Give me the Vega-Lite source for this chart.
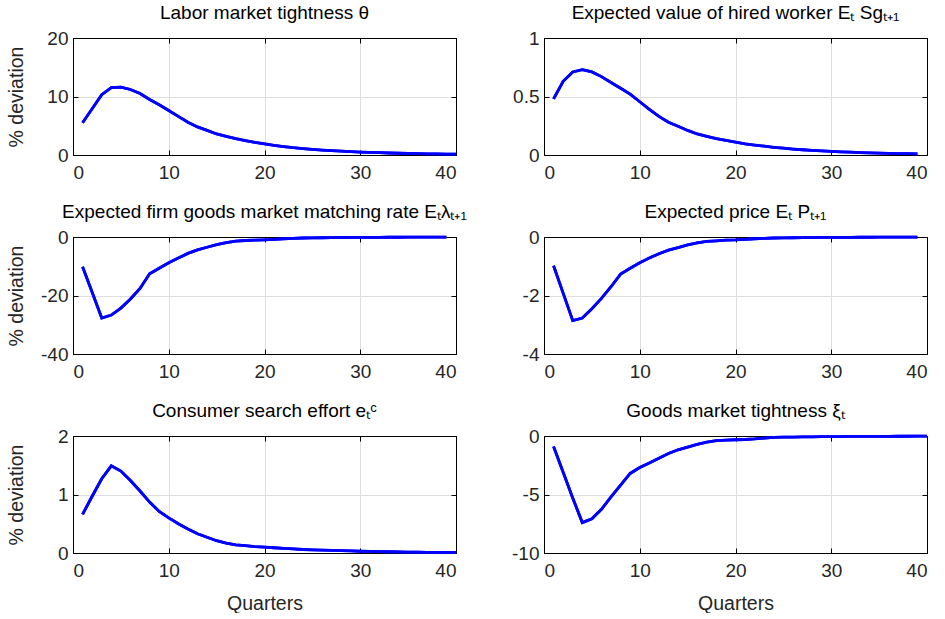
{
  "$schema": "https://vega.github.io/schema/vega-lite/v6.json",
  "background": "white",
  "padding": {"left": 5, "top": 3, "right": 0, "bottom": 0},
  "config": {
    "font": "Liberation Sans",
    "view": {"stroke": "#000000", "strokeWidth": 1},
    "title": {"font": "Liberation Sans", "fontSize": 19, "fontWeight": "normal", "color": "#000000", "offset": 6, "baseline": "alphabetic", "anchor": "middle", "frame": "group"},
    "axis": {
      "labelFont": "Liberation Sans", "labelFontSize": 19, "labelColor": "#262626",
      "titleFont": "Liberation Sans", "titleFontSize": 19.5, "titleFontWeight": "normal", "titleColor": "#262626",
      "gridColor": "#dedede", "gridWidth": 1, "gridOpacity": 1,
      "domain": true, "domainColor": "#000000", "domainWidth": 1, "domainOpacity": 1,
      "ticks": true, "tickColor": "#000000", "tickSize": -5, "tickWidth": 1, "tickOpacity": 1,
      "labelExpr": "toString(datum.value)",
      "zindex": 1
    },
    "axisX": {"labelPadding": 13, "labelBaseline": "top"},
    "axisY": {"labelPadding": 10}
  },
  "datasets": {
    "theta": [
      {"q":1,"v":5.5},{"q":2,"v":7.9},{"q":3,"v":10.3},{"q":4,"v":11.5},{"q":5,"v":11.6},{"q":6,"v":11.2},{"q":7,"v":10.5},{"q":8,"v":9.5},{"q":9,"v":8.6},{"q":10,"v":7.6},
      {"q":11,"v":6.6},{"q":12,"v":5.6},{"q":13,"v":4.8},{"q":14,"v":4.2},{"q":15,"v":3.6},{"q":16,"v":3.2},{"q":17,"v":2.8},{"q":18,"v":2.45},{"q":19,"v":2.15},{"q":20,"v":1.9},
      {"q":21,"v":1.65},{"q":22,"v":1.45},{"q":23,"v":1.25},{"q":24,"v":1.1},{"q":25,"v":0.95},{"q":26,"v":0.85},{"q":27,"v":0.75},{"q":28,"v":0.65},{"q":29,"v":0.57},{"q":30,"v":0.5},
      {"q":31,"v":0.44},{"q":32,"v":0.39},{"q":33,"v":0.34},{"q":34,"v":0.3},{"q":35,"v":0.26},{"q":36,"v":0.23},{"q":37,"v":0.2},{"q":38,"v":0.18},{"q":39,"v":0.16},{"q":40,"v":0.14}
    ],
    "sg": [
      {"q":1,"v":0.48},{"q":2,"v":0.63},{"q":3,"v":0.71},{"q":4,"v":0.73},{"q":5,"v":0.71},{"q":6,"v":0.67},{"q":7,"v":0.62},{"q":8,"v":0.57},{"q":9,"v":0.52},{"q":10,"v":0.455},
      {"q":11,"v":0.39},{"q":12,"v":0.33},{"q":13,"v":0.28},{"q":14,"v":0.245},{"q":15,"v":0.21},{"q":16,"v":0.18},{"q":17,"v":0.16},{"q":18,"v":0.14},{"q":19,"v":0.125},{"q":20,"v":0.11},
      {"q":21,"v":0.095},{"q":22,"v":0.085},{"q":23,"v":0.075},{"q":24,"v":0.066},{"q":25,"v":0.058},{"q":26,"v":0.051},{"q":27,"v":0.045},{"q":28,"v":0.04},{"q":29,"v":0.035},{"q":30,"v":0.031},
      {"q":31,"v":0.027},{"q":32,"v":0.024},{"q":33,"v":0.021},{"q":34,"v":0.018},{"q":35,"v":0.016},{"q":36,"v":0.014},{"q":37,"v":0.012},{"q":38,"v":0.011},{"q":39,"v":0.01}
    ],
    "lambda": [
      {"q":1,"v":-10.2},{"q":2,"v":-18.9},{"q":3,"v":-27.7},{"q":4,"v":-26.7},{"q":5,"v":-24.3},{"q":6,"v":-21.2},{"q":7,"v":-17.6},{"q":8,"v":-12.6},{"q":9,"v":-10.7},{"q":10,"v":-8.8},
      {"q":11,"v":-7.2},{"q":12,"v":-5.6},{"q":13,"v":-4.4},{"q":14,"v":-3.5},{"q":15,"v":-2.6},{"q":16,"v":-1.9},{"q":17,"v":-1.4},{"q":18,"v":-1.2},{"q":19,"v":-1.05},{"q":20,"v":-0.95},
      {"q":21,"v":-0.8},{"q":22,"v":-0.6},{"q":23,"v":-0.45},{"q":24,"v":-0.35},{"q":25,"v":-0.3},{"q":26,"v":-0.25},{"q":27,"v":-0.2},{"q":28,"v":-0.17},{"q":29,"v":-0.15},{"q":30,"v":-0.13},
      {"q":31,"v":-0.11},{"q":32,"v":-0.1},{"q":33,"v":-0.09},{"q":34,"v":-0.08},{"q":35,"v":-0.07},{"q":36,"v":-0.06},{"q":37,"v":-0.05},{"q":38,"v":-0.05},{"q":39,"v":-0.04}
    ],
    "price": [
      {"q":1,"v":-0.98},{"q":2,"v":-1.92},{"q":3,"v":-2.86},{"q":4,"v":-2.77},{"q":5,"v":-2.45},{"q":6,"v":-2.1},{"q":7,"v":-1.7},{"q":8,"v":-1.27},{"q":9,"v":-1.07},{"q":10,"v":-0.88},
      {"q":11,"v":-0.72},{"q":12,"v":-0.57},{"q":13,"v":-0.45},{"q":14,"v":-0.36},{"q":15,"v":-0.27},{"q":16,"v":-0.2},{"q":17,"v":-0.15},{"q":18,"v":-0.13},{"q":19,"v":-0.11},{"q":20,"v":-0.1},
      {"q":21,"v":-0.08},{"q":22,"v":-0.06},{"q":23,"v":-0.045},{"q":24,"v":-0.035},{"q":25,"v":-0.03},{"q":26,"v":-0.025},{"q":27,"v":-0.02},{"q":28,"v":-0.017},{"q":29,"v":-0.015},{"q":30,"v":-0.013},
      {"q":31,"v":-0.011},{"q":32,"v":-0.01},{"q":33,"v":-0.009},{"q":34,"v":-0.008},{"q":35,"v":-0.007},{"q":36,"v":-0.006},{"q":37,"v":-0.005},{"q":38,"v":-0.005},{"q":39,"v":-0.004}
    ],
    "effort": [
      {"q":1,"v":0.66},{"q":2,"v":0.97},{"q":3,"v":1.27},{"q":4,"v":1.49},{"q":5,"v":1.4},{"q":6,"v":1.24},{"q":7,"v":1.06},{"q":8,"v":0.87},{"q":9,"v":0.71},{"q":10,"v":0.6},
      {"q":11,"v":0.5},{"q":12,"v":0.41},{"q":13,"v":0.33},{"q":14,"v":0.27},{"q":15,"v":0.21},{"q":16,"v":0.17},{"q":17,"v":0.14},{"q":18,"v":0.125},{"q":19,"v":0.11},{"q":20,"v":0.1},
      {"q":21,"v":0.09},{"q":22,"v":0.08},{"q":23,"v":0.07},{"q":24,"v":0.06},{"q":25,"v":0.055},{"q":26,"v":0.05},{"q":27,"v":0.045},{"q":28,"v":0.04},{"q":29,"v":0.035},{"q":30,"v":0.03},
      {"q":31,"v":0.027},{"q":32,"v":0.024},{"q":33,"v":0.021},{"q":34,"v":0.018},{"q":35,"v":0.016},{"q":36,"v":0.014},{"q":37,"v":0.012},{"q":38,"v":0.011},{"q":39,"v":0.01},{"q":40,"v":0.009}
    ],
    "xi": [
      {"q":1,"v":-0.9},{"q":2,"v":-3.1},{"q":3,"v":-5.3},{"q":4,"v":-7.4},{"q":5,"v":-7.07},{"q":6,"v":-6.26},{"q":7,"v":-5.2},{"q":8,"v":-4.2},{"q":9,"v":-3.2},{"q":10,"v":-2.7},
      {"q":11,"v":-2.3},{"q":12,"v":-1.9},{"q":13,"v":-1.5},{"q":14,"v":-1.18},{"q":15,"v":-0.95},{"q":16,"v":-0.72},{"q":17,"v":-0.52},{"q":18,"v":-0.4},{"q":19,"v":-0.35},{"q":20,"v":-0.32},
      {"q":21,"v":-0.3},{"q":22,"v":-0.25},{"q":23,"v":-0.18},{"q":24,"v":-0.12},{"q":25,"v":-0.1},{"q":26,"v":-0.09},{"q":27,"v":-0.08},{"q":28,"v":-0.07},{"q":29,"v":-0.06},{"q":30,"v":-0.05},
      {"q":31,"v":-0.045},{"q":32,"v":-0.04},{"q":33,"v":-0.035},{"q":34,"v":-0.03},{"q":35,"v":-0.027},{"q":36,"v":-0.024},{"q":37,"v":-0.022},{"q":38,"v":-0.02},{"q":39,"v":-0.018},{"q":40,"v":-0.016}
    ]
  },
  "columns": 2,
  "bounds": "flush",
  "spacing": {"row": 82, "column": 88},
  "concat": [
    {
      "title": "Labor market tightness θ",
      "width": 383, "height": 117,
      "data": {"name": "theta"},
      "resolve": {"axis": {"x": "independent", "y": "independent"}},
      "layer": [
        {
          "mark": {"type": "line", "color": "#0000ff", "strokeWidth": 2.8},
          "encoding": {
            "x": {"field": "q", "type": "quantitative", "scale": {"domain": [0, 40], "nice": false}, "axis": {"values": [0, 10, 20, 30, 40], "title": null}},
            "y": {"field": "v", "type": "quantitative", "scale": {"domain": [0, 20], "nice": false, "zero": false}, "axis": {"values": [0, 10, 20], "title": "% deviation", "titleX": -57, "titleBaseline": "middle"}}
          }
        },
        {
          "mark": {"type": "line", "color": "#0000ff", "strokeWidth": 2.8},
          "encoding": {
            "x": {"field": "q", "type": "quantitative", "axis": {"orient": "top", "values": [0, 10, 20, 30, 40], "labels": false, "grid": false, "title": null}},
            "y": {"field": "v", "type": "quantitative", "axis": {"orient": "right", "values": [0, 10, 20], "labels": false, "grid": false, "title": null}}
          }
        }
      ]
    },
    {
      "title": "Expected value of hired worker Eₜ Sgₜ₊₁",
      "width": 383, "height": 117,
      "data": {"name": "sg"},
      "resolve": {"axis": {"x": "independent", "y": "independent"}},
      "layer": [
        {
          "mark": {"type": "line", "color": "#0000ff", "strokeWidth": 2.8},
          "encoding": {
            "x": {"field": "q", "type": "quantitative", "scale": {"domain": [0, 40], "nice": false}, "axis": {"values": [0, 10, 20, 30, 40], "title": null}},
            "y": {"field": "v", "type": "quantitative", "scale": {"domain": [0, 1], "nice": false, "zero": false}, "axis": {"values": [0, 0.5, 1], "title": null}}
          }
        },
        {
          "mark": {"type": "line", "color": "#0000ff", "strokeWidth": 2.8},
          "encoding": {
            "x": {"field": "q", "type": "quantitative", "axis": {"orient": "top", "values": [0, 10, 20, 30, 40], "labels": false, "grid": false, "title": null}},
            "y": {"field": "v", "type": "quantitative", "axis": {"orient": "right", "values": [0, 0.5, 1], "labels": false, "grid": false, "title": null}}
          }
        }
      ]
    },
    {
      "title": "Expected firm goods market matching rate Eₜλₜ₊₁",
      "width": 383, "height": 117,
      "data": {"name": "lambda"},
      "resolve": {"axis": {"x": "independent", "y": "independent"}},
      "layer": [
        {
          "mark": {"type": "line", "color": "#0000ff", "strokeWidth": 2.8},
          "encoding": {
            "x": {"field": "q", "type": "quantitative", "scale": {"domain": [0, 40], "nice": false}, "axis": {"values": [0, 10, 20, 30, 40], "title": null}},
            "y": {"field": "v", "type": "quantitative", "scale": {"domain": [-40, 0], "nice": false, "zero": false}, "axis": {"values": [-40, -20, 0], "title": "% deviation", "titleX": -57, "titleBaseline": "middle"}}
          }
        },
        {
          "mark": {"type": "line", "color": "#0000ff", "strokeWidth": 2.8},
          "encoding": {
            "x": {"field": "q", "type": "quantitative", "axis": {"orient": "top", "values": [0, 10, 20, 30, 40], "labels": false, "grid": false, "title": null}},
            "y": {"field": "v", "type": "quantitative", "axis": {"orient": "right", "values": [-40, -20, 0], "labels": false, "grid": false, "title": null}}
          }
        }
      ]
    },
    {
      "title": "Expected price Eₜ Pₜ₊₁",
      "width": 383, "height": 117,
      "data": {"name": "price"},
      "resolve": {"axis": {"x": "independent", "y": "independent"}},
      "layer": [
        {
          "mark": {"type": "line", "color": "#0000ff", "strokeWidth": 2.8},
          "encoding": {
            "x": {"field": "q", "type": "quantitative", "scale": {"domain": [0, 40], "nice": false}, "axis": {"values": [0, 10, 20, 30, 40], "title": null}},
            "y": {"field": "v", "type": "quantitative", "scale": {"domain": [-4, 0], "nice": false, "zero": false}, "axis": {"values": [-4, -2, 0], "title": null}}
          }
        },
        {
          "mark": {"type": "line", "color": "#0000ff", "strokeWidth": 2.8},
          "encoding": {
            "x": {"field": "q", "type": "quantitative", "axis": {"orient": "top", "values": [0, 10, 20, 30, 40], "labels": false, "grid": false, "title": null}},
            "y": {"field": "v", "type": "quantitative", "axis": {"orient": "right", "values": [-4, -2, 0], "labels": false, "grid": false, "title": null}}
          }
        }
      ]
    },
    {
      "title": "Consumer search effort eₜᶜ",
      "width": 383, "height": 117,
      "data": {"name": "effort"},
      "resolve": {"axis": {"x": "independent", "y": "independent"}},
      "layer": [
        {
          "mark": {"type": "line", "color": "#0000ff", "strokeWidth": 2.8},
          "encoding": {
            "x": {"field": "q", "type": "quantitative", "scale": {"domain": [0, 40], "nice": false}, "axis": {"values": [0, 10, 20, 30, 40], "title": "Quarters", "titleY": 56, "titleBaseline": "alphabetic"}},
            "y": {"field": "v", "type": "quantitative", "scale": {"domain": [0, 2], "nice": false, "zero": false}, "axis": {"values": [0, 1, 2], "title": "% deviation", "titleX": -57, "titleBaseline": "middle"}}
          }
        },
        {
          "mark": {"type": "line", "color": "#0000ff", "strokeWidth": 2.8},
          "encoding": {
            "x": {"field": "q", "type": "quantitative", "axis": {"orient": "top", "values": [0, 10, 20, 30, 40], "labels": false, "grid": false, "title": null}},
            "y": {"field": "v", "type": "quantitative", "axis": {"orient": "right", "values": [0, 1, 2], "labels": false, "grid": false, "title": null}}
          }
        }
      ]
    },
    {
      "title": "Goods market tightness ξₜ",
      "width": 383, "height": 117,
      "data": {"name": "xi"},
      "resolve": {"axis": {"x": "independent", "y": "independent"}},
      "layer": [
        {
          "mark": {"type": "line", "color": "#0000ff", "strokeWidth": 2.8},
          "encoding": {
            "x": {"field": "q", "type": "quantitative", "scale": {"domain": [0, 40], "nice": false}, "axis": {"values": [0, 10, 20, 30, 40], "title": "Quarters", "titleY": 56, "titleBaseline": "alphabetic"}},
            "y": {"field": "v", "type": "quantitative", "scale": {"domain": [-10, 0], "nice": false, "zero": false}, "axis": {"values": [-10, -5, 0], "title": null}}
          }
        },
        {
          "mark": {"type": "line", "color": "#0000ff", "strokeWidth": 2.8},
          "encoding": {
            "x": {"field": "q", "type": "quantitative", "axis": {"orient": "top", "values": [0, 10, 20, 30, 40], "labels": false, "grid": false, "title": null}},
            "y": {"field": "v", "type": "quantitative", "axis": {"orient": "right", "values": [-10, -5, 0], "labels": false, "grid": false, "title": null}}
          }
        }
      ]
    }
  ]
}
